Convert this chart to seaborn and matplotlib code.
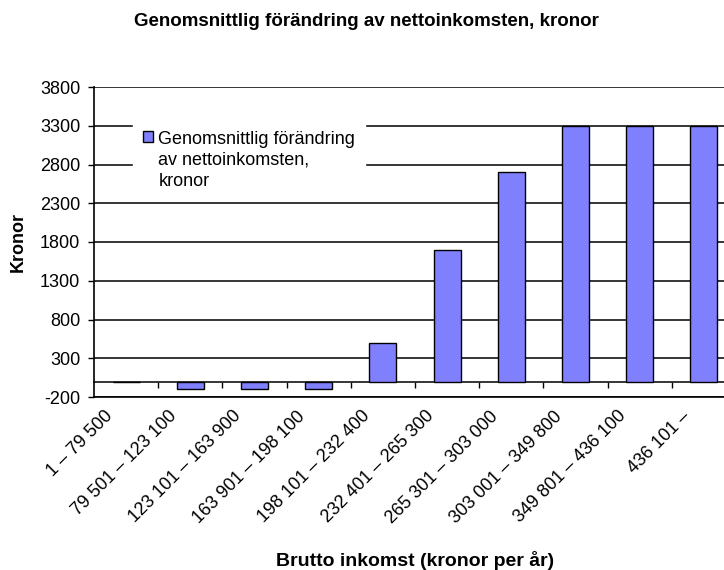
import numpy as np
import pandas as pd
import matplotlib
matplotlib.use("Agg")
import matplotlib.pyplot as plt
import matplotlib.transforms as mtransforms
import seaborn as sns

# income brackets (kronor per year) and average change of net income
brackets = ["1 – 79 500", "79 501 – 123 100", "123 101 – 163 900",
            "163 901 – 198 100", "198 101 – 232 400", "232 401 – 265 300",
            "265 301 – 303 000", "303 001 – 349 800", "349 801 – 436 100",
            "436 101 –"]
change = [0, -100, -100, -100, 500, 1700, 2700, 3300, 3300, 3300]
series_label = "Genomsnittlig förändring\nav nettoinkomsten,\nkronor"
yticks = list(range(-200, 3801, 500))

sns.set_style("white")
plt.rcParams["font.family"] = ["Liberation Sans", "DejaVu Sans"]
plt.rcParams["axes.unicode_minus"] = False
plt.rcParams["text.color"] = "black"
plt.rcParams["axes.labelcolor"] = "black"
plt.rcParams["xtick.color"] = "black"
plt.rcParams["ytick.color"] = "black"

df = pd.DataFrame({"bracket": brackets, "change": change})

fig = plt.figure(figsize=(7.24, 5.70), dpi=100)
# axes deliberately run past the right edge, like the cropped original
ax = fig.add_axes([94 / 724, 1 - 397 / 570, 642 / 724, 310 / 570])

sns.barplot(data=df, x="bracket", y="change", color="#8080FF", saturation=1,
            width=0.42, edgecolor="black", linewidth=1, ax=ax, zorder=3)

ax.set_ylim(-200, 3800)
ax.set_xlim(-0.5, len(brackets) - 0.5)
ax.set_yticks(yticks)
ax.yaxis.grid(True, color="black", linewidth=1.1)
ax.set_axisbelow(True)
for s in ["top", "right"]:
    ax.spines[s].set_visible(False)
for s in ["left", "bottom"]:
    ax.spines[s].set_color("black")
    ax.spines[s].set_linewidth(1.2)

# zero line with category boundary ticks
zero = ax.secondary_xaxis(200 / 4000)
zero.set_xticks(np.arange(0.5, len(brackets), 1))
zero.tick_params(length=4, width=1, color="black", labelbottom=False)
zero.spines["bottom"].set_linewidth(1.3)

ax.tick_params(axis="y", length=4, width=1, color="black", left=True,
               labelsize=13, pad=6)
ax.tick_params(axis="x", length=0, labelsize=13, pad=12)
offset = mtransforms.ScaledTranslation(-0.16, 0, fig.dpi_scale_trans)
for lab in ax.get_xticklabels():
    lab.set_rotation(45)
    lab.set_ha("right")
    lab.set_va("center")
    lab.set_rotation_mode("anchor")
    lab.set_transform(lab.get_transform() + offset)

ax.set_xlabel("Brutto inkomst (kronor per år)", fontsize=14, fontweight="bold")
ax.xaxis.set_label_coords(0.5, (397 - 551) / 310)
ax.set_ylabel("Kronor", fontsize=13, fontweight="bold")
ax.yaxis.set_label_coords((27 - 94) / 642, 0.5)

fig.text(366 / 724, 1 - 21 / 570,
         "Genomsnittlig förändring av nettoinkomsten, kronor",
         ha="center", va="center", fontsize=13.5, fontweight="bold")

leg = ax.legend(handles=[ax.containers[0]], labels=[series_label],
                loc="upper left", bbox_to_anchor=((133 - 94) / 642, (397 - 121) / 310),
                borderaxespad=0, borderpad=0.55, frameon=True, fancybox=False,
                framealpha=1, edgecolor="white", fontsize=13,
                handlelength=0.55, handleheight=0.55, handletextpad=0.3,
                labelspacing=0)
for t in leg.get_texts():
    t.set_linespacing(1.3)
for col in leg._legend_handle_box.get_children():
    for row in col.get_children():
        row.align = "top"

fig.savefig("out.png", dpi=100)
